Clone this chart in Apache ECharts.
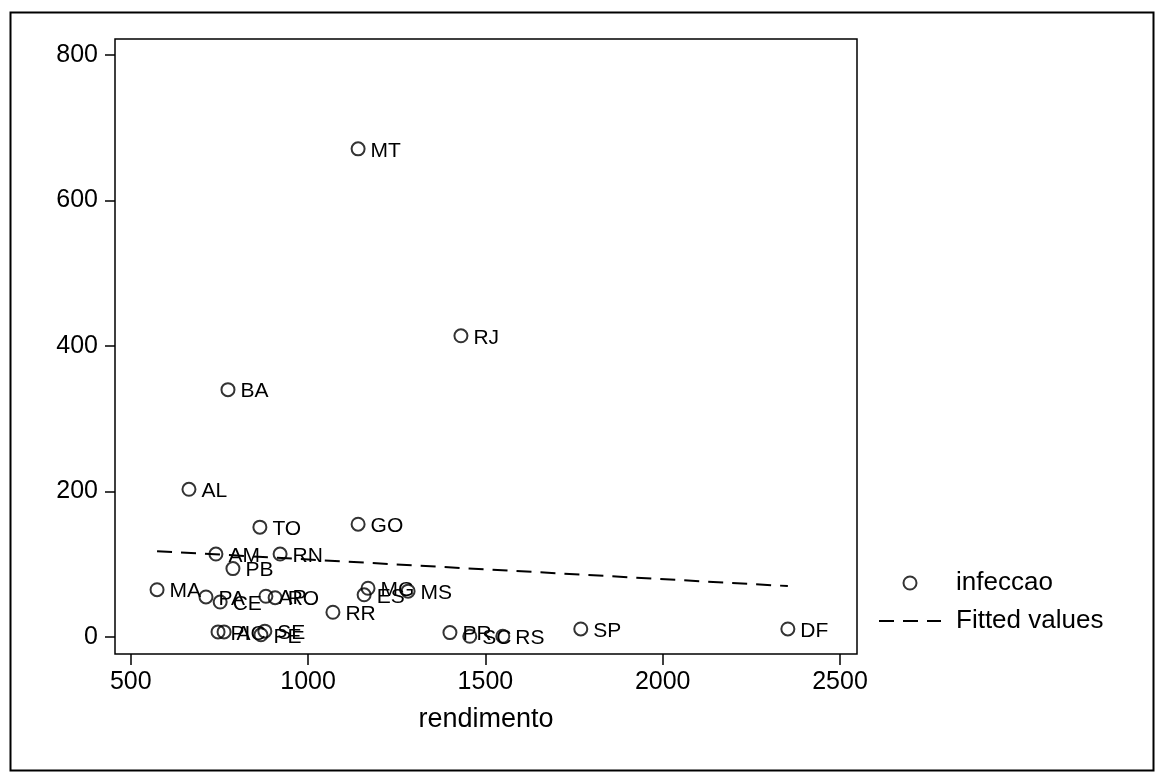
<!DOCTYPE html>
<html>
<head>
<meta charset="utf-8">
<script src="https://cdn.jsdelivr.net/npm/echarts@6/dist/echarts.min.js"></script>
<style>
  html, body { margin: 0; padding: 0; background: #fff; }
  #chart { width: 1159px; height: 776px; }
</style>
</head>
<body>
<div id="chart"></div>
<script>
// Data
const states     = ['MT','RJ','BA','AL','TO','GO','AM','RN','PB','MA','PA','CE','AP','RO','MG','ES','MS','RR','PR','SC','RS','SP','DF','PI','AC','SE','PE'];
const rendimento = [1141,1431,774,664,864,1141,740,921,788,574,712,752,881,907,1169,1158,1282,1070,1400,1456,1549,1769,2353,746,763,878,867];
const infeccao   = [671,414,340,203,151,155,114,114,94,65,55,48,56,54,67,58,63,34,6,1,1,11,11,7,7,8,3];

// Fitted values line (endpoints)
const fitX = [574, 2353];
const fitY = [118, 70];

const xTicks = [500, 1000, 1500, 2000, 2500];
const yTicks = [0, 200, 400, 600, 800];

const FONT = '"Liberation Sans", Arial, Helvetica, sans-serif';

const scatterData = states.map((s, i) => ({ name: s, value: [rendimento[i], infeccao[i]] }));
const fitData = fitX.map((x, i) => [x, fitY[i]]);

const chart = echarts.init(document.getElementById('chart'), null, { renderer: 'canvas' });
chart.setOption({
  backgroundColor: '#fff',
  animation: false,
  textStyle: { fontFamily: FONT, color: '#000' },
  grid: {
    left: 115, top: 39, right: 302, bottom: 122,
    show: true, borderColor: '#000', borderWidth: 1.5, backgroundColor: '#fff'
  },
  xAxis: {
    type: 'value', min: 455.4, max: 2548,
    axisLine: { show: false, onZero: false },
    splitLine: { show: false },
    axisTick: { show: true, inside: false, customValues: xTicks, length: 11, lineStyle: { color: '#000', width: 1.5 } },
    axisLabel: { customValues: xTicks, fontSize: 25, color: '#000', margin: 16, fontFamily: FONT, formatter: v => String(v) },
    name: 'rendimento', nameLocation: 'middle', nameGap: 52,
    nameTextStyle: { fontSize: 27, color: '#000', fontFamily: FONT }
  },
  yAxis: {
    type: 'value', min: -23.4, max: 822,
    axisLine: { show: false, onZero: false },
    splitLine: { show: false },
    axisTick: { show: true, inside: false, customValues: yTicks, length: 10, lineStyle: { color: '#000', width: 1.5 } },
    axisLabel: { customValues: yTicks, fontSize: 25, color: '#000', margin: 17, fontFamily: FONT, formatter: v => String(v) }
  },
  legend: {
    orient: 'vertical', left: 878, top: 570,
    itemWidth: 62, itemHeight: 13, itemGap: 12, padding: 0,
    textStyle: { fontSize: 26, color: '#000', fontFamily: FONT, lineHeight: 26, padding: [0, 0, 0, 10] },
    data: [
      { name: 'infeccao', icon: 'circle' },
      { name: 'Fitted values', itemStyle: { opacity: 0 } }
    ]
  },
  series: [
    {
      name: 'infeccao', type: 'scatter', data: scatterData,
      symbol: 'circle', symbolSize: 13,
      itemStyle: { color: 'rgba(0,0,0,0)', borderColor: '#000', borderWidth: 2 },
      label: {
        show: true, position: 'right', distance: 5, offset: [0, 2],
        formatter: p => p.name,
        fontSize: 21, color: '#000', opacity: 1, textBorderWidth: 0, fontFamily: FONT
      },
      emphasis: { disabled: true },
      z: 3
    },
    {
      name: 'Fitted values', type: 'line', data: fitData,
      symbol: 'none', showSymbol: false,
      lineStyle: { color: '#000', width: 2, type: [15, 9] },
      itemStyle: { color: '#000' },
      emphasis: { disabled: true },
      z: 2
    }
  ],
  graphic: [
    {
      type: 'rect', left: 8, top: 10, silent: true,
      shape: { width: 1143, height: 758 },
      style: { fill: 'none', stroke: '#000', lineWidth: 2 }
    }
  ]
});
</script>
</body>
</html>
